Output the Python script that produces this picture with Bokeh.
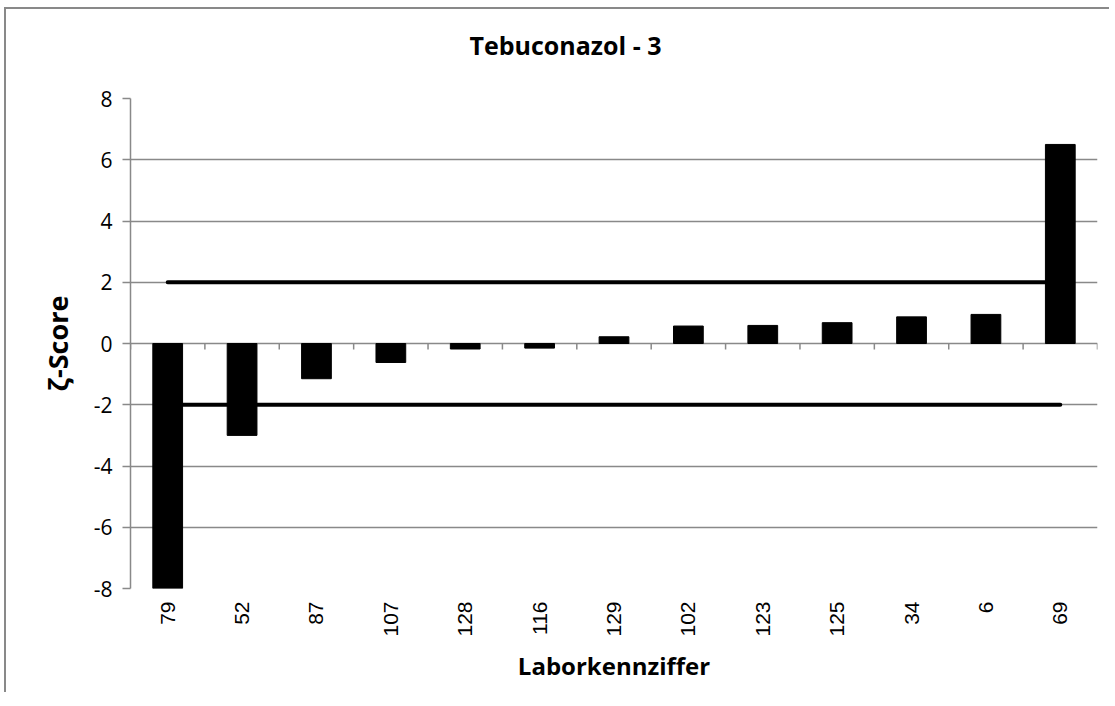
from math import pi
from bokeh.plotting import figure
from bokeh.models import Range1d, FixedTicker, Title
from bokeh.embed import file_html
from bokeh.resources import INLINE

# ---- data ----
labs = ["79", "52", "87", "107", "128", "116", "129", "102", "123", "125", "34", "6", "69"]
zscores = [-8.0, -3.0, -1.15, -0.62, -0.18, -0.15, 0.22, 0.57, 0.59, 0.68, 0.87, 0.95, 6.5]
upper_limit = [2, 2, 2, 2, 2, 2, 2, 2, 2, 2, 2, 2, 2]
lower_limit = [-2, -2, -2, -2, -2, -2, -2, -2, -2, -2, -2, -2, -2]
yticks = [-8, -6, -4, -2, 0, 2, 4, 6, 8]
ytick_labels = ["-8", "-6", "-4", "-2", "0", "2", "4", "6", "8"]
title_text = "Tebuconazol - 3"
xlabel = "Laborkennziffer"
ylabel = "ζ-Score"

n = len(labs)
xpos = [i + 0.5 for i in range(n)]
bounds = [i for i in range(n + 1)]

GRAY = "#898989"
FW, FH = 967, 490
BL, BR, BT, BB = 124, 14, 89, 106
YMIN, YMAX = -8, 8

p = figure(width=BL + FW + BR, height=BT + FH + BB,
           x_range=Range1d(0, n), y_range=Range1d(YMIN, YMAX),
           output_backend="svg", toolbar_location=None,
           min_border_left=BL, min_border_right=BR, min_border_top=BT, min_border_bottom=BB)
p.outline_line_color = None
p.background_fill_color = "white"
p.border_fill_color = "white"
p.styles = {"margin-left": "4px", "margin-top": "7px",
            "border-left": "2px solid " + GRAY, "border-top": "2px solid " + GRAY}

# title: an empty spacer title next to the frame, the real title above it
spacer = Title(text=" ", text_font_size="14px", standoff=4)
p.add_layout(spacer, "above")
real_title = Title(text=title_text, align="left", offset=339, standoff=30,
                   text_font="Open Sans", text_font_style="bold",
                   text_font_size="25px", text_color="black")
p.add_layout(real_title, "above")

# grid
p.xgrid.visible = False
p.ygrid.ticker = FixedTicker(ticks=yticks)
p.ygrid.grid_line_color = GRAY
p.ygrid.grid_line_width = 1.5

# y axis
ya = p.yaxis[0]
ya.ticker = FixedTicker(ticks=yticks)
ya.major_label_overrides = {t: s for t, s in zip(yticks, ytick_labels)}
ya.axis_line_color = GRAY
ya.axis_line_width = 1.5
ya.major_tick_line_color = GRAY
ya.major_tick_line_width = 1.5
ya.major_tick_out = 8
ya.major_tick_in = 0
ya.minor_tick_line_color = None
ya.major_label_text_font = "Open Sans"
ya.major_label_text_font_size = "21px"
ya.major_label_text_color = "black"
ya.major_label_standoff = 10
ya.axis_label = ylabel
ya.axis_label_text_font = "Open Sans"
ya.axis_label_text_font_style = "bold"
ya.axis_label_text_font_size = "27px"
ya.axis_label_text_color = "black"
ya.axis_label_standoff = 15

# x axis with category labels
xa = p.xaxis[0]
xa.ticker = FixedTicker(ticks=xpos)
xa.major_label_overrides = {x: l for x, l in zip(xpos, labs)}
xa.major_label_orientation = pi / 2
xa.axis_line_color = None
xa.major_tick_line_color = None
xa.minor_tick_line_color = None
xa.major_label_text_font = "Liberation Sans"
xa.major_label_text_font_size = "21px"
xa.major_label_text_color = "black"
xa.major_label_standoff = 7
xa.axis_label = xlabel
xa.axis_label_text_font = "Open Sans"
xa.axis_label_text_font_style = "bold"
xa.axis_label_text_font_size = "24px"
xa.axis_label_text_color = "black"
xa.axis_label_standoff = 9

# category boundary ticks on the zero line (6 px long, pointing down)
tick_len = 6 * (YMAX - YMIN) / FH
p.segment(x0=bounds, y0=[0] * len(bounds), x1=bounds, y1=[-tick_len] * len(bounds),
          line_color=GRAY, line_width=1.5)

# bars
p.vbar(x=xpos, top=zscores, bottom=0, width=0.4, fill_color="black", line_color="black")

# limit lines
p.line(xpos, upper_limit, line_width=4, line_color="black", line_cap="round")
p.line(xpos, lower_limit, line_width=4, line_color="black", line_cap="round")

open("out.html", "w").write(file_html(p, INLINE))
